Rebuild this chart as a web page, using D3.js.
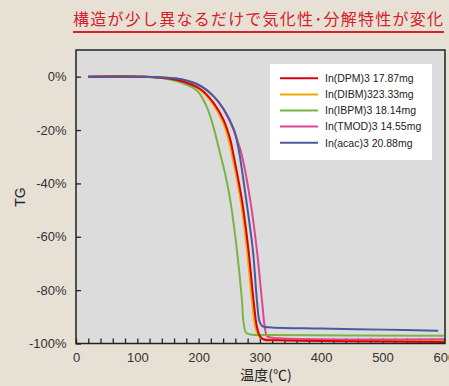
<!DOCTYPE html>
<html>
<head>
<meta charset="utf-8">
<script src="https://cdn.jsdelivr.net/npm/d3@7"></script>
<style>
  body { margin: 0; background: #e6e0d5; }
  svg { display: block; }
  .tick text { font-family: "Liberation Sans", Arial, sans-serif; font-size: 13px; fill: #333; }
</style>
</head>
<body>
<div class="chart"></div>
<script>
// temperature (°C) / TG (%)
var seriesNames = ["In(DPM)3 17.87mg", "In(DIBM)323.33mg", "In(IBPM)3 18.14mg", "In(TMOD)3 14.55mg", "In(acac)3 20.88mg"];

var dpm = [[20,0],[110,0],[140,-0.4],[170,-1.5],[202.7,-4.6],[224.4,-9.8],[240.7,-16.2],[251.6,-23.5],[256,-28.2],[270.7,-46.2],[281.4,-65],[289.6,-83.7],[295.1,-93.7],[300.5,-97.4],[306,-98.5],[330,-98.8],[600,-99.4]];
var dibm = [[20,0],[110,0],[140,-0.4],[170,-1.6],[202.7,-5],[224,-10.5],[240,-17.2],[250,-24.5],[254,-28.8],[268.5,-46.2],[279,-65],[287,-83.7],[292.5,-93.7],[298,-97.2],[304,-98.2],[330,-98.5],[600,-99.1]];
var ibpm = [[20,0],[110,0],[140,-0.5],[170,-2.1],[197.3,-5.2],[213.6,-11.5],[224.4,-19],[235.3,-29],[243.4,-36.5],[251.6,-46.2],[262.5,-65],[270.7,-83.7],[273.3,-92],[277.7,-96],[285,-96.6],[320,-96.8],[600,-97.1]];
var tmod = [[20,0],[110,0],[140,-0.3],[170,-0.9],[202.7,-3.4],[224.4,-7.4],[240.7,-12.3],[257,-19.8],[262.5,-23.3],[270.7,-29.5],[284.2,-46.2],[295.1,-65],[303.3,-83.7],[308.7,-95],[312,-97.3],[320,-97.8],[600,-98.4]];
var acac = [[20,0],[110,0],[140,-0.3],[170,-0.9],[202.7,-3.4],[224.4,-7.3],[240.7,-12],[257,-19.5],[265,-26.8],[277.7,-46.2],[288.6,-65],[295.1,-83.7],[299.5,-91.8],[304,-93.5],[320,-94],[400,-94.4],[500,-94.8],[591,-95.2]];

var xTicks = d3.range(0, 601, 20);
var yTicks = [0, -20, -40, -60, -80, -100];

var colors = ["#d9000f", "#f2a600", "#7ab445", "#e0458f", "#4b5a9c"];
var allSeries = [dpm, dibm, ibpm, tmod, acac];
// draw order so blue ends on top and red over orange
var drawOrder = [1, 3, 2, 0, 4];

var svgWidth = 449;
var svgHeight = 386;

var svg = d3
  .select(".chart")
  .append("svg")
  .attr("width", svgWidth)
  .attr("height", svgHeight);

// title with red underline
svg.append("text")
  .attr("x", 73)
  .attr("y", 25)
  .attr("textLength", 370)
  .attr("lengthAdjust", "spacing")
  .style("font-family", "'Noto Sans CJK JP', sans-serif")
  .style("font-size", "16px")
  .style("fill", "#d6202a")
  .text("構造が少し異なるだけで気化性･分解特性が変化");

svg.append("line")
  .attr("x1", 73).attr("x2", 444)
  .attr("y1", 32).attr("y2", 32)
  .attr("stroke", "#d6202a")
  .attr("stroke-width", 2);

var xScale = d3.scaleLinear().domain([0, 602]).range([76, 445]);
var yScale = d3.scaleLinear().domain([-100, 10]).range([343.5, 50]);

// plot background
svg.append("rect")
  .attr("x", xScale(0)).attr("y", yScale(10))
  .attr("width", xScale(602) - xScale(0))
  .attr("height", yScale(-100) - yScale(10))
  .attr("fill", "#dcdcdc");

// axes
var xAxis = d3.axisBottom(xScale)
  .tickValues(xTicks)
  .tickSize(-5)
  .tickPadding(9)
  .tickFormat(function (d) { return d % 100 === 0 ? d : ""; });

var yAxis = d3.axisLeft(yScale)
  .tickValues(yTicks)
  .tickSize(-5)
  .tickPadding(9.5)
  .tickFormat(function (d) { return d + "%"; });

var gx = svg.append("g")
  .attr("transform", `translate(0, ${yScale(-100)})`)
  .call(xAxis);
gx.select(".domain").remove();
gx.selectAll(".tick line").attr("stroke", "#222").attr("stroke-width", 1.3);

var gy = svg.append("g")
  .attr("transform", `translate(${xScale(0)}, 0)`)
  .call(yAxis);
gy.select(".domain").remove();
gy.selectAll(".tick line").attr("stroke", "#222").attr("stroke-width", 1.3);

// curves
var line = d3.line()
  .x(function (d) { return xScale(d[0]); })
  .y(function (d) { return yScale(d[1]); })
  .curve(d3.curveCatmullRom.alpha(0.5));

drawOrder.forEach(function (i) {
  svg.append("path")
    .datum(allSeries[i])
    .attr("d", line)
    .attr("fill", "none")
    .attr("stroke", colors[i])
    .attr("stroke-width", 2);
});

// frame
svg.append("rect")
  .attr("x", xScale(0)).attr("y", yScale(10))
  .attr("width", xScale(602) - xScale(0))
  .attr("height", yScale(-100) - yScale(10))
  .attr("fill", "none")
  .attr("stroke", "#222")
  .attr("stroke-width", 1.5);

// legend
var legend = svg.append("g");
legend.append("rect")
  .attr("x", 270).attr("y", 64)
  .attr("width", 162).attr("height", 96)
  .attr("fill", "#fff");

seriesNames.forEach(function (name, i) {
  var yy = 78.3 + i * 16.1;
  legend.append("line")
    .attr("x1", 280).attr("x2", 318)
    .attr("y1", yy).attr("y2", yy)
    .attr("stroke", colors[i])
    .attr("stroke-width", 2);
  legend.append("text")
    .attr("x", 325).attr("y", yy + 3.8)
    .style("font-family", "'Liberation Sans', Arial, sans-serif")
    .style("font-size", "10.5px")
    .style("fill", "#222")
    .text(name);
});

// axis titles
svg.append("text")
  .attr("transform", "translate(25, 197) rotate(-90)")
  .attr("text-anchor", "middle")
  .style("font-family", "'Liberation Sans', Arial, sans-serif")
  .style("font-size", "14px")
  .style("fill", "#222")
  .text("TG");

svg.append("text")
  .attr("x", 266).attr("y", 380)
  .attr("text-anchor", "middle")
  .style("font-family", "'Noto Sans CJK JP', sans-serif")
  .style("font-size", "14px")
  .style("fill", "#222")
  .text("温度(℃)");
</script>
</body>
</html>
